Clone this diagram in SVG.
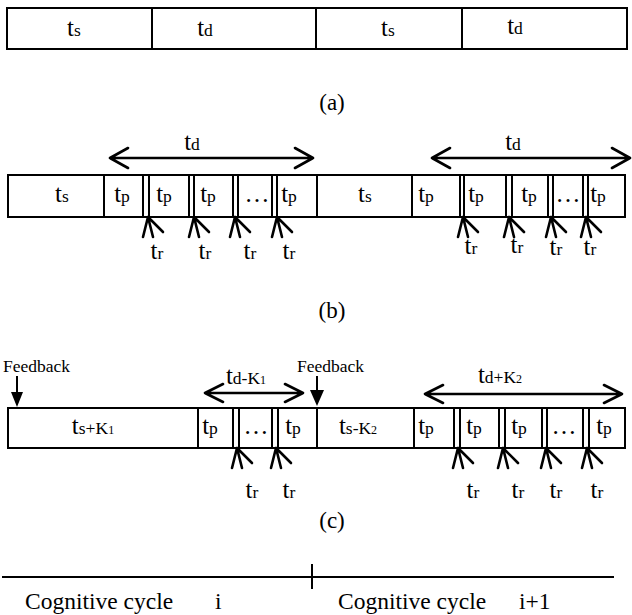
<svg xmlns="http://www.w3.org/2000/svg" width="632" height="615" viewBox="0 0 632 615">
<style>
.ln{fill:none;stroke:#000;stroke-width:2}
.ar{fill:none;stroke:#000;stroke-width:2.6;stroke-linecap:round;stroke-linejoin:round}
.fa{fill:#000;stroke:none}
text{font-family:"Liberation Serif","Times New Roman",serif;fill:#000}
.m{font-size:25px}
.s{font-size:17.5px}
.ss{font-size:12px}
.cap{font-size:23px}
.cy{font-size:23.5px}
.fb{font-size:17.5px}
</style>
<defs>
<path id="tr" class="ar" d="M0,0 L-5,20 M0,0 L5,20 M0,0 L15,15"/>
</defs>
<rect width="632" height="615" fill="#fff"/>

<g id="row-a">
<rect class="ln" x="7" y="8" width="620" height="41"/>
<path class="ln" d="M152,8V49 M316,8V49 M462,8V49"/>
<text class="m" x="74" y="36" text-anchor="middle">t<tspan class="s">s</tspan></text>
<text class="m" x="205" y="36" text-anchor="middle">t<tspan class="s">d</tspan></text>
<text class="m" x="388" y="36" text-anchor="middle">t<tspan class="s">s</tspan></text>
<text class="m" x="515" y="34" text-anchor="middle">t<tspan class="s">d</tspan></text>
</g>
<text id="cap-a" class="cap" x="332" y="110" text-anchor="middle">(a)</text>

<g id="row-b">
<rect class="ln" x="8" y="175" width="617" height="42"/>
<path class="ln" d="M104,175V217 M143,175V217 M149,175V217 M189,175V217 M194,175V217 M233,175V217 M238,175V217 M272,175V217 M277,175V217 M317,175V217 M412,175V217 M460,175V217 M464,175V217 M506,175V217 M512,175V217 M548,175V217 M553,175V217 M583,175V217 M588,175V217"/>
<text class="m" x="62" y="202" text-anchor="middle">t<tspan class="s">s</tspan></text>
<text class="m" x="122" y="202" text-anchor="middle">t<tspan class="s">p</tspan></text>
<text class="m" x="164" y="202" text-anchor="middle">t<tspan class="s">p</tspan></text>
<text class="m" x="208" y="202" text-anchor="middle">t<tspan class="s">p</tspan></text>
<text class="m" x="257" y="202" text-anchor="middle">…</text>
<text class="m" x="289" y="202" text-anchor="middle">t<tspan class="s">p</tspan></text>
<text class="m" x="365" y="202" text-anchor="middle">t<tspan class="s">s</tspan></text>
<text class="m" x="426" y="202" text-anchor="middle">t<tspan class="s">p</tspan></text>
<text class="m" x="476" y="202" text-anchor="middle">t<tspan class="s">p</tspan></text>
<text class="m" x="529" y="202" text-anchor="middle">t<tspan class="s">p</tspan></text>
<text class="m" x="568" y="202" text-anchor="middle">…</text>
<text class="m" x="598" y="202" text-anchor="middle">t<tspan class="s">p</tspan></text>
</g>
<g id="labels-b">
<text class="m" x="192" y="150" text-anchor="middle">t<tspan class="s">d</tspan></text>
<text class="m" x="513" y="150" text-anchor="middle">t<tspan class="s">d</tspan></text>
<text class="m" x="157" y="259" text-anchor="middle">t<tspan class="s">r</tspan></text>
<text class="m" x="205" y="259" text-anchor="middle">t<tspan class="s">r</tspan></text>
<text class="m" x="250" y="259" text-anchor="middle">t<tspan class="s">r</tspan></text>
<text class="m" x="289" y="259" text-anchor="middle">t<tspan class="s">r</tspan></text>
<text class="m" x="471" y="254" text-anchor="middle">t<tspan class="s">r</tspan></text>
<text class="m" x="517" y="253" text-anchor="middle">t<tspan class="s">r</tspan></text>
<text class="m" x="556" y="255" text-anchor="middle">t<tspan class="s">r</tspan></text>
<text class="m" x="590" y="255" text-anchor="middle">t<tspan class="s">r</tspan></text>
</g>
<text id="cap-b" class="cap" x="332" y="318" text-anchor="middle">(b)</text>

<g id="row-c">
<rect class="ln" x="8" y="408" width="617" height="40"/>
<path class="ln" d="M198,408V448 M233,408V448 M239,408V448 M272,408V448 M278,408V448 M317,408V448 M414,408V448 M454,408V448 M460,408V448 M499,408V448 M505,408V448 M542,408V448 M547,408V448 M583,408V448 M589,408V448"/>
<text class="m" x="93" y="434" text-anchor="middle">t<tspan class="s">s+K<tspan class="ss">1</tspan></tspan></text>
<text class="m" x="210" y="434" text-anchor="middle">t<tspan class="s">p</tspan></text>
<text class="m" x="256" y="434" text-anchor="middle">…</text>
<text class="m" x="293" y="434" text-anchor="middle">t<tspan class="s">p</tspan></text>
<text class="m" x="358" y="434" text-anchor="middle">t<tspan class="s">s-K<tspan class="ss">2</tspan></tspan></text>
<text class="m" x="426" y="434" text-anchor="middle">t<tspan class="s">p</tspan></text>
<text class="m" x="474" y="434" text-anchor="middle">t<tspan class="s">p</tspan></text>
<text class="m" x="519" y="434" text-anchor="middle">t<tspan class="s">p</tspan></text>
<text class="m" x="564" y="434" text-anchor="middle">…</text>
<text class="m" x="604" y="434" text-anchor="middle">t<tspan class="s">p</tspan></text>
</g>
<g id="labels-c">
<text class="fb" x="3" y="372">Feedback</text>
<text class="fb" x="297" y="372">Feedback</text>
<text class="m" x="246" y="384" text-anchor="middle">t<tspan class="s">d-K<tspan class="ss">1</tspan></tspan></text>
<text class="m" x="500" y="383" text-anchor="middle">t<tspan class="s">d+K<tspan class="ss">2</tspan></tspan></text>
<text class="m" x="252" y="498" text-anchor="middle">t<tspan class="s">r</tspan></text>
<text class="m" x="289" y="498" text-anchor="middle">t<tspan class="s">r</tspan></text>
<text class="m" x="473" y="498" text-anchor="middle">t<tspan class="s">r</tspan></text>
<text class="m" x="518" y="498" text-anchor="middle">t<tspan class="s">r</tspan></text>
<text class="m" x="556" y="498" text-anchor="middle">t<tspan class="s">r</tspan></text>
<text class="m" x="597" y="498" text-anchor="middle">t<tspan class="s">r</tspan></text>
</g>
<text id="cap-c" class="cap" x="332" y="528" text-anchor="middle">(c)</text>

<g id="connectors">
<path class="ar" d="M110,158H313 M128,148L110,158L128,168 M295,148L313,158L295,168"/>
<path class="ar" d="M432,158H630 M450,148L432,158L450,168 M612,148L630,158L612,168"/>
<path class="ar" d="M205,393H303 M223,384L205,393L223,402 M285,384L303,393L285,402"/>
<path class="ar" d="M425,394H622 M443,385L425,394L443,403 M604,385L622,394L604,403"/>
<use href="#tr" x="148" y="217"/>
<use href="#tr" x="194" y="217"/>
<use href="#tr" x="235" y="217"/>
<use href="#tr" x="277" y="217"/>
<use href="#tr" x="463" y="217"/>
<use href="#tr" x="509" y="217"/>
<use href="#tr" x="551" y="217"/>
<use href="#tr" x="586" y="217"/>
<use href="#tr" x="237" y="448"/>
<use href="#tr" x="276" y="448"/>
<use href="#tr" x="458" y="448"/>
<use href="#tr" x="503" y="448"/>
<use href="#tr" x="546" y="448"/>
<use href="#tr" x="587" y="448"/>
<path class="ln" d="M17,376V393 M317,376V391"/>
<path class="fa" d="M11,392H23L17,407Z M310,390H324L317,406Z"/>
</g>

<g id="cycle-axis">
<path class="ln" d="M2,577H614 M312,564V589"/>
<text class="cy" x="25" y="609">Cognitive cycle<tspan x="215">i</tspan></text>
<text class="cy" x="338" y="609">Cognitive cycle<tspan x="519">i+1</tspan></text>
</g>
</svg>
